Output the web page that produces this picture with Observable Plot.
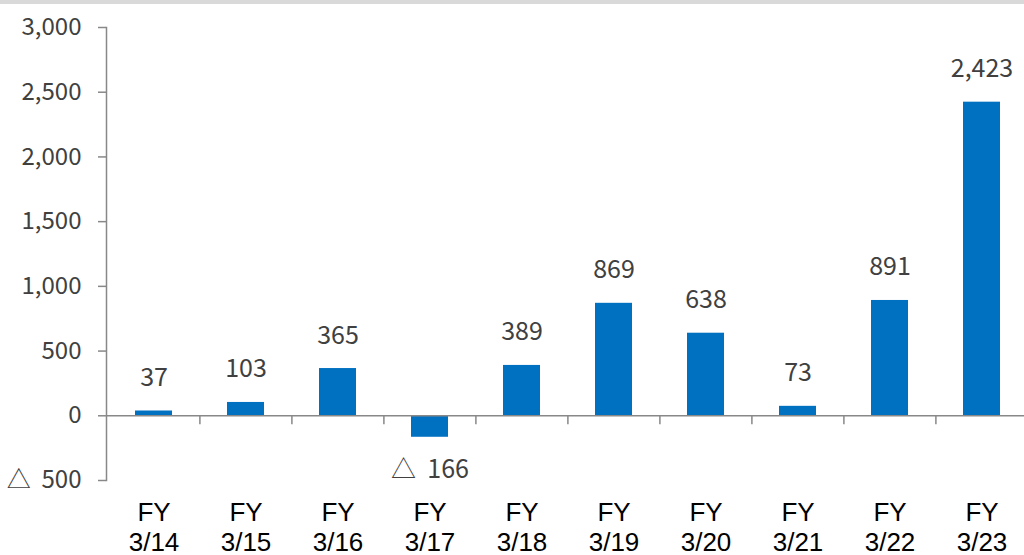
<!DOCTYPE html>
<html><head><meta charset="utf-8">
<script src="https://cdn.jsdelivr.net/npm/d3@7"></script>
<script src="https://cdn.jsdelivr.net/npm/@observablehq/plot@0.6"></script>
<style>
body{margin:0;background:#fff;}
#topbar{height:4px;background:#d9d9d9;}
</style></head><body>
<div id="topbar"></div>
<div id="chart"></div>
<script>
const categories = ["3/14","3/15","3/16","3/17","3/18","3/19","3/20","3/21","3/22","3/23"];
const values = [37,103,365,-166,389,869,638,73,891,2423];
const yTicks = [-500,0,500,1000,1500,2000,2500,3000];
const fmt = v => v < 0 ? "△\u00a0 " + d3.format(",")(-v) : d3.format(",")(v);
const data = categories.map((c,i)=>({cat:c, value: values[i]}));
const axisColor = "#888";
const jp = "'Noto Sans CJK JP', sans-serif";
const chart = Plot.plot({
  width:1024, height:551, marginTop:23, marginBottom:75, marginLeft:106, marginRight:0,
  style:{background:"#fff", fontFamily: jp, overflow:"visible"},
  x:{domain:categories, range:[106,1028], paddingInner:0.6, paddingOuter:0.3, label:null},
  y:{domain:[-500,3000], label:null},
  marks:[
    Plot.barY(data,{x:"cat", y:"value", fill:"#0070C0"}),
    Plot.frame({anchor:"left", stroke:axisColor, strokeWidth:1.5}),
    Plot.ruleY([0],{stroke:axisColor, strokeWidth:1.5}),
    Plot.ruleX(categories.slice(1), {x: d=>d, dx:-46.1, y1:0, y2:-70, stroke:axisColor, strokeWidth:1.5}),
    Plot.axisY({ticks:yTicks, tickFormat:fmt, tickSize:8, tickPadding:17, stroke:axisColor, strokeWidth:1.5, fill:"#404040", fontSize:24, fontFamily:jp, label:null}),
    Plot.axisX({tickSize:0, tickPadding:19, tickFormat: d=>"FY\n"+d, fontSize:26, lineHeight:1.15, fill:"#000", fontFamily:"'Liberation Sans', Arial, sans-serif", label:null}),
    Plot.text(data.filter(d=>d.value>=0), {x:"cat", y:"value", text:d=>fmt(d.value), dy:-33, fontSize:25, fill:"#404040", fontFamily:jp}),
    Plot.text(data.filter(d=>d.value<0), {x:"cat", y:"value", text:d=>fmt(d.value), dy:33, fontSize:25, fill:"#404040", fontFamily:jp})
  ]
});
document.getElementById("chart").appendChild(chart);
</script>
</body></html>
